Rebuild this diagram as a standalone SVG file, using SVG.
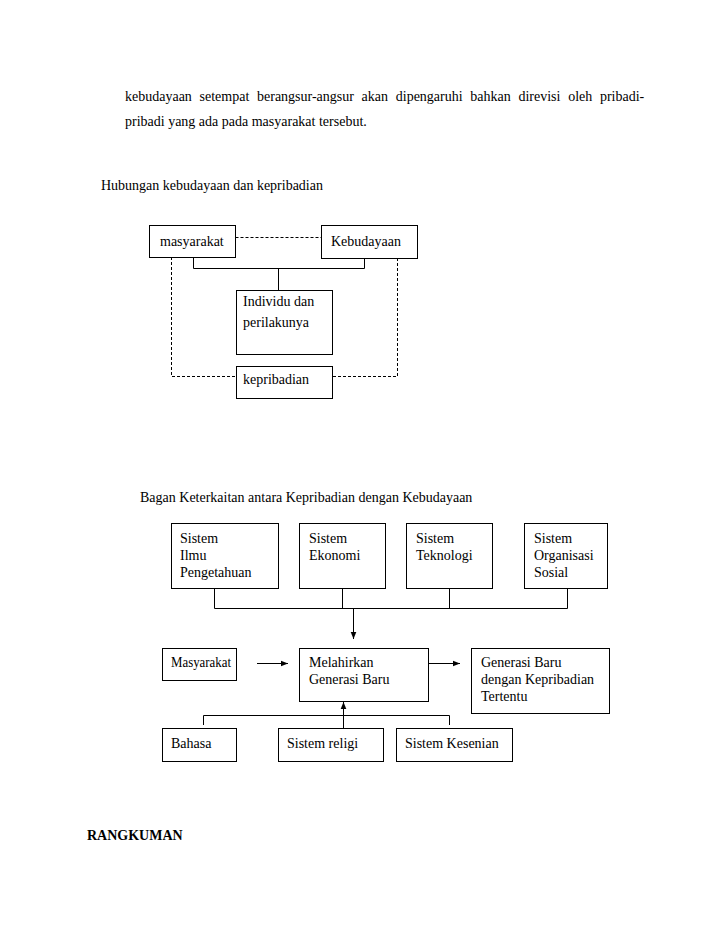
<svg xmlns="http://www.w3.org/2000/svg" width="728" height="943" viewBox="0 0 728 943">
<style>
text{font-family:"Liberation Serif","Times New Roman",serif;font-size:14px;fill:#000}
.box{fill:#fff;stroke:#000;stroke-width:1}
.ln{fill:none;stroke:#000;stroke-width:1}
.dash{fill:none;stroke:#000;stroke-width:1;stroke-dasharray:3,2}
</style>
<defs>
<marker id="ah" viewBox="0 0 10 10" refX="10" refY="5" markerWidth="7" markerHeight="7" orient="auto" markerUnits="userSpaceOnUse"><path d="M0,1 L10,5 L0,9 z" fill="#000"/></marker>
</defs>
<rect width="728" height="943" fill="#fff"/>
<text x="125" y="101" word-spacing="4.2">kebudayaan setempat berangsur-angsur akan dipengaruhi bahkan direvisi oleh pribadi-</text>
<text x="125" y="126">pribadi yang ada pada masyarakat tersebut.</text>
<text x="101" y="190">Hubungan kebudayaan dan kepribadian</text>

<g id="connectors1">
<path class="dash" d="M235.5,237.5 H321"/>
<path class="ln" d="M193.5,257 V268.5 H364.5 V258"/>
<path class="ln" d="M278.5,268.5 V290"/>
<path class="dash" d="M171.5,257 V376.5 H236"/>
<path class="dash" d="M397.5,258 V376.5 H332"/>
</g>
<g id="n-masyarakat"><rect class="box" x="149.5" y="225.5" width="86" height="32"/><text x="160" y="246">masyarakat</text></g>
<g id="n-kebudayaan"><rect class="box" x="321.5" y="225.5" width="96" height="33" stroke="#555"/><text x="331" y="246">Kebudayaan</text></g>
<g id="n-individu"><rect class="box" x="236.5" y="290.5" width="96" height="64"/><text x="243" y="306">Individu dan</text><text x="243" y="327">perilakunya</text></g>
<g id="n-kepribadian"><rect class="box" x="236.5" y="366.5" width="96" height="32"/><text x="243" y="384">kepribadian</text></g>

<text x="140" y="502">Bagan Keterkaitan antara Kepribadian dengan Kebudayaan</text>

<g id="connectors2">
<path class="ln" d="M214.5,588 V608.5 H567.5 V588"/>
<path class="ln" d="M342.5,588 V608.5"/>
<path class="ln" d="M449.5,588 V608.5"/>
<path class="ln" d="M353.5,608.5 V639" marker-end="url(#ah)"/>
<path class="ln" d="M257,663.5 H288" marker-end="url(#ah)"/>
<path class="ln" d="M429,663.5 H460" marker-end="url(#ah)"/>
<path class="ln" d="M343.5,728 V702" marker-end="url(#ah)"/>
<path class="ln" d="M203.5,725 V715.5 H449.5 V725"/>
</g>
<g id="n-ilmu"><rect class="box" x="171.5" y="523.5" width="107" height="65"/><text x="180" y="543">Sistem</text><text x="180" y="560">Ilmu</text><text x="180" y="577">Pengetahuan</text></g>
<g id="n-ekonomi"><rect class="box" x="299.5" y="523.5" width="86" height="65"/><text x="309" y="543">Sistem</text><text x="309" y="560">Ekonomi</text></g>
<g id="n-teknologi"><rect class="box" x="406.5" y="523.5" width="86" height="65"/><text x="416" y="543">Sistem</text><text x="416" y="560">Teknologi</text></g>
<g id="n-organisasi"><rect class="box" x="524.5" y="523.5" width="83" height="65"/><text x="534" y="543">Sistem</text><text x="534" y="560">Organisasi</text><text x="534" y="577">Sosial</text></g>
<g id="n-masyarakat2"><rect class="box" x="162.5" y="648.5" width="74" height="32"/><text x="171" y="667" textLength="60" lengthAdjust="spacingAndGlyphs">Masyarakat</text></g>
<g id="n-melahirkan"><rect class="box" x="299.5" y="648.5" width="129" height="53"/><text x="309" y="667">Melahirkan</text><text x="309" y="684">Generasi Baru</text></g>
<g id="n-generasi"><rect class="box" x="471.5" y="648.5" width="138" height="65"/><text x="481" y="667">Generasi Baru</text><text x="481" y="684">dengan Kepribadian</text><text x="481" y="701">Tertentu</text></g>
<g id="n-bahasa"><rect class="box" x="162.5" y="728.5" width="74" height="33"/><text x="171" y="748">Bahasa</text></g>
<g id="n-religi"><rect class="box" x="278.5" y="728.5" width="105" height="33"/><text x="287" y="748">Sistem religi</text></g>
<g id="n-kesenian"><rect class="box" x="396.5" y="728.5" width="116" height="33"/><text x="405" y="748">Sistem Kesenian</text></g>

<text x="87" y="840" font-weight="bold">RANGKUMAN</text>
</svg>
